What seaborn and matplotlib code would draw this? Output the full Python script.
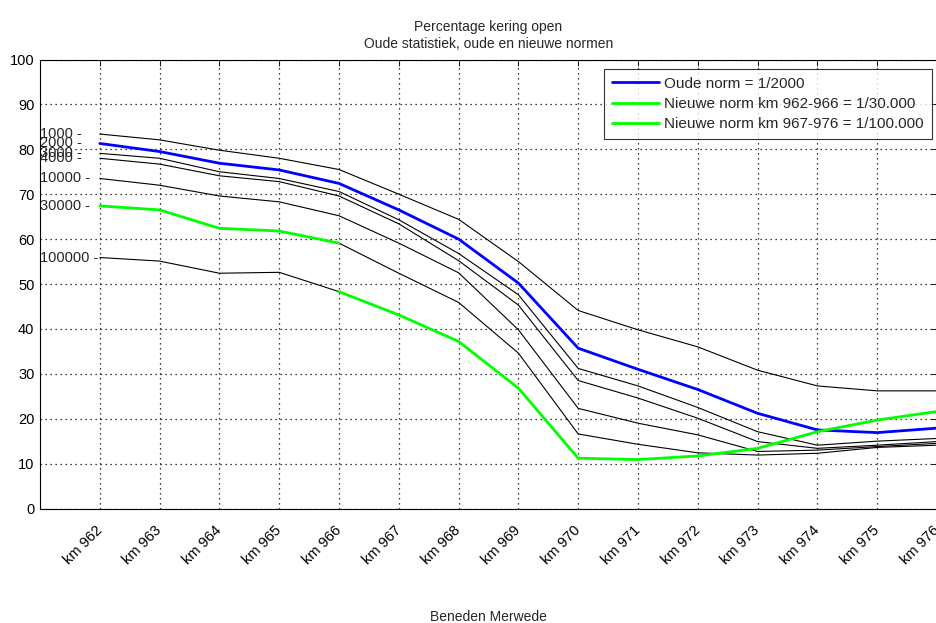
import matplotlib
matplotlib.use('Agg')
import matplotlib.pyplot as plt
import matplotlib.transforms as mtransforms
import seaborn as sns
import pandas as pd

# kilometer positions along the Beneden Merwede
km = [962, 963, 964, 965, 966, 967, 968, 969, 970, 971, 972, 973, 974, 975, 976]
km_labels = [f'km {k}' for k in km]

# percentage of time the barrier is open, per return period (years)
p1000 = [83.4, 82.1, 79.8, 78.0, 75.5, 70.0, 64.4, 55.0, 44.1, 39.8, 36.0, 30.8, 27.3, 26.2, 26.2]
p2000 = [81.3, 79.5, 76.9, 75.4, 72.4, 66.5, 60.0, 50.2, 35.7, 31.0, 26.5, 21.2, 17.5, 16.9, 17.9]
p3000 = [79.1, 78.0, 75.0, 73.5, 70.6, 64.3, 56.8, 47.6, 31.2, 27.3, 22.5, 17.1, 14.1, 15.0, 15.6]
p4000 = [78.0, 76.7, 74.1, 72.8, 69.6, 63.4, 55.2, 45.3, 28.5, 24.6, 20.1, 14.9, 13.4, 14.1, 14.9]
p10000 = [73.5, 72.0, 69.6, 68.3, 65.2, 59.1, 52.5, 39.8, 22.3, 19.0, 16.4, 12.7, 13.0, 13.8, 14.5]
p30000 = [67.4, 66.5, 62.4, 61.8, 59.1, 52.4, 45.9, 34.6, 16.6, 14.3, 12.4, 11.9, 12.3, 13.6, 14.1]
p100000 = [55.9, 55.1, 52.4, 52.6, 48.3, 43.1, 37.2, 26.8, 11.2, 10.9, 11.7, 13.4, 17.1, 19.7, 21.6]

series = {'1000': p1000, '2000': p2000, '3000': p3000, '4000': p4000,
          '10000': p10000, '30000': p30000, '100000': p100000}

sns.set_theme(style='white')
plt.rcParams['font.family'] = ['Liberation Sans', 'DejaVu Sans']

fig = plt.figure(figsize=(9.36, 6.23), dpi=100)
ax = fig.add_axes([40 / 936, (623 - 508.5) / 623, 897 / 936, 449 / 623])

# all statistics as thin black lines
for name, vals in series.items():
    sns.lineplot(x=km, y=vals, color='black', linewidth=0.8, ax=ax)
    ax.text(961, vals[0], f'{name} -', ha='left', va='center', fontsize=10.5)

# old and new norms
sns.lineplot(x=km, y=p2000, color='#0000ff', linewidth=2, ax=ax, label='Oude norm = 1/2000')
sns.lineplot(x=km[:5], y=p30000[:5], color='#00ff00', linewidth=2, ax=ax,
             label='Nieuwe norm km 962-966 = 1/30.000')
sns.lineplot(x=km[4:], y=p100000[4:], color='#00ff00', linewidth=2, ax=ax,
             label='Nieuwe norm km 967-976 = 1/100.000')

ax.set_xlim(961, 976)
ax.set_ylim(0, 100)
ax.set_yticks(range(0, 101, 10))
ax.set_xticks(km)
ax.set_xticklabels(km_labels, rotation=45, ha='right', va='center', rotation_mode='anchor')
offset = mtransforms.ScaledTranslation(14 / 100, 0, fig.dpi_scale_trans)
for lbl in ax.get_xticklabels():
    lbl.set_transform(lbl.get_transform() + offset)

ax.tick_params(direction='in', length=4, width=0.6, top=True, right=True, colors='black',
               labelsize=10.5)
ax.tick_params(axis='x', pad=14)
ax.tick_params(axis='y', pad=4)
ax.grid(True, linestyle=(0, (1, 3)), color='black', linewidth=0.9)
for s in ax.spines.values():
    s.set_color('black')
    s.set_linewidth(0.8)

ax.set_title('Percentage kering open\nOude statistiek, oude en nieuwe normen',
             fontsize=10, linespacing=1.35, pad=8)
ax.set_xlabel('Beneden Merwede', fontsize=10)
ax.xaxis.set_label_coords(0.5, (508.5 - 617) / 449)
ax.xaxis.label.set_va('center')
ax.set_ylabel('')

leg = ax.legend(loc='upper left', bbox_to_anchor=(604 / 936, 1 - 69 / 623),
                bbox_transform=fig.transFigure, borderaxespad=0, fancybox=False,
                frameon=True, edgecolor='black', fontsize=11, handlelength=3.1,
                handletextpad=0.35, borderpad=0.5, labelspacing=0.42)
leg.get_frame().set_linewidth(0.8)

fig.savefig('out.png', dpi=100)
